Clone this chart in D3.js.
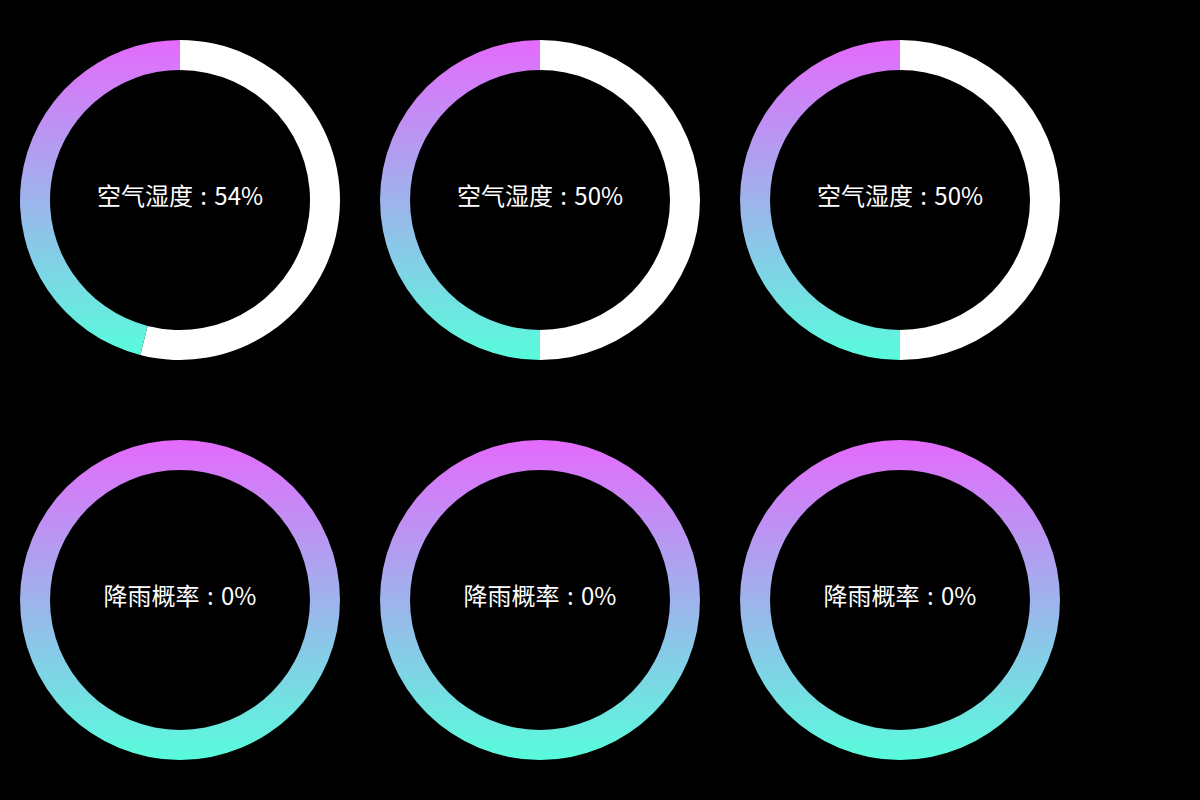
<!DOCTYPE html>
<html><head><meta charset="utf-8">
<script src="https://cdn.jsdelivr.net/npm/d3@7"></script>
<style>html,body{margin:0;padding:0;background:#000;}svg{display:block;}</style>
</head><body>
<svg id="chart" width="1200" height="800"></svg>
<script>
const labels = ["空气湿度", "空气湿度", "空气湿度", "降雨概率", "降雨概率", "降雨概率"];
const values = [54, 50, 50, 0, 0, 0];
const total = 100;
const gradientTop = "#e46afc";
const gradientBottom = "#58fcdc";

const W = 1200, H = 800;
const svg = d3.select("#chart").style("background", "#000");
svg.append("rect").attr("width", W).attr("height", H).attr("fill", "#000");

const defs = svg.append("defs");
const grad = defs.append("linearGradient").attr("id", "ring")
  .attr("x1", 0).attr("y1", 0).attr("x2", 0).attr("y2", 1);
grad.append("stop").attr("offset", "0%").attr("stop-color", gradientTop);
grad.append("stop").attr("offset", "100%").attr("stop-color", gradientBottom);

const cols = d3.scaleBand().domain([0,1,2]).range([0, 1080]);
const rows = d3.scaleBand().domain([0,1]).range([0, 800]);
const arc = d3.arc().innerRadius(130).outerRadius(160);
const pie = d3.pie().sort(null).value(d => d.v);

values.forEach((v, i) => {
  const g = svg.append("g")
    .attr("transform", `translate(${cols(i % 3) + cols.bandwidth()/2},${rows(Math.floor(i/3)) + rows.bandwidth()/2})`);
  const data = [{v: v, c: "#fff"}, {v: total - v, c: "url(#ring)"}];
  g.selectAll("path").data(pie(data).filter(d => d.data.v > 0)).join("path")
    .attr("d", arc).attr("fill", d => d.data.c);
  g.append("text").attr("text-anchor", "middle").attr("y", -3).attr("dy", "0.35em")
    .attr("fill", "#fff")
    .style("font-family", "'Noto Sans CJK SC', sans-serif").style("font-size", "24px")
    .style("word-spacing", "2px")
    .text(`${labels[i]} : ${v}%`);
});
</script>
</body></html>
